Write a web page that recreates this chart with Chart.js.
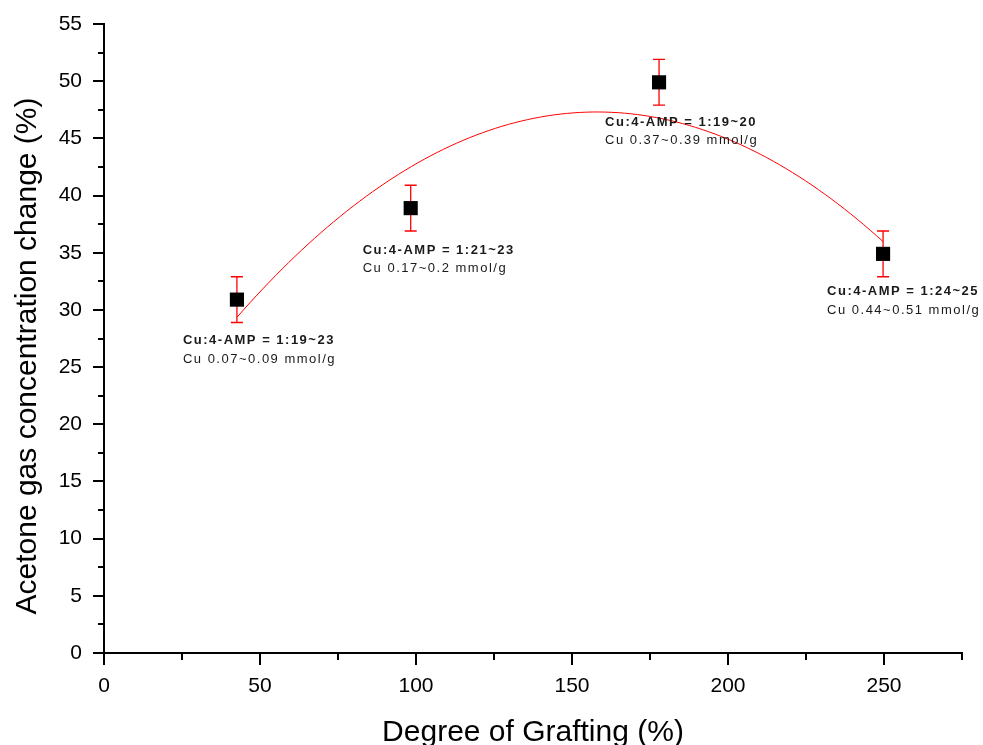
<!DOCTYPE html>
<html>
<head>
	<title>Acetone gas concentration change vs Degree of Grafting</title>
	<meta name="viewport" content="width=device-width, initial-scale=1.0"/>
	<script src="https://cdn.jsdelivr.net/npm/chart.js"></script>
	<style>
		body { margin: 0; background: #fff; }
		#wrap { width: 983px; height: 745px; }
	</style>
</head>
<body>
<div id="wrap"><canvas id="myChart" width="983" height="745"></canvas></div>
<script>
// degree of grafting (%) and acetone response (%) per sample
var grafting = [42.6, 98.3, 177.9, 249.7];
var acetone = [30.9, 38.9, 49.9, 34.9];
var acetoneErr = [2.0, 2.0, 2.0, 2.0];

var ratioText = ['Cu:4-AMP = 1:19~23', 'Cu:4-AMP = 1:21~23', 'Cu:4-AMP = 1:19~20', 'Cu:4-AMP = 1:24~25'];
var cuText = ['Cu 0.07~0.09 mmol/g', 'Cu 0.17~0.2 mmol/g', 'Cu 0.37~0.39 mmol/g', 'Cu 0.44~0.51 mmol/g'];

// axis ranges / tick steps
var xMax = 275, xMajor = 50, xMinor = 25;
var yMax = 55, yMajor = 5, yMinor = 2.5;

var FONT = '"Liberation Sans", Arial, sans-serif';

// where each note sits relative to its marker (px)
var noteOffset = [
	{dx: -54, dy: 41},
	{dx: -48, dy: 42},
	{dx: -54, dy: 40},
	{dx: -56, dy: 38}
];

// least squares 2nd order polynomial, returns [a, b, c] for a + bx + cx^2
function quadFit(xs, ys)
{
	var s = [0, 0, 0, 0, 0], t = [0, 0, 0];
	for (var i = 0; i < xs.length; i++) {
		var p = 1;
		for (var k = 0; k < 5; k++) {
			s[k] += p;
			if (k < 3) t[k] += p * ys[i];
			p *= xs[i];
		}
	}
	var m = [[s[0], s[1], s[2], t[0]], [s[1], s[2], s[3], t[1]], [s[2], s[3], s[4], t[2]]];
	for (var c = 0; c < 3; c++) {
		for (var r = c + 1; r < 3; r++) {
			var f = m[r][c] / m[c][c];
			for (var j = c; j < 4; j++) m[r][j] -= f * m[c][j];
		}
	}
	var coef = [0, 0, 0];
	for (var r2 = 2; r2 >= 0; r2--) {
		var v = m[r2][3];
		for (var j2 = r2 + 1; j2 < 3; j2++) v -= m[r2][j2] * coef[j2];
		coef[r2] = v / m[r2][r2];
	}
	return coef;
}

var coef = quadFit(grafting, acetone);
var fitLine = [];
var x0 = grafting[0], x1 = grafting[grafting.length - 1];
for (var i = 0; i <= 100; i++) {
	var xv = x0 + (x1 - x0) * i / 100;
	fitLine.push({x: xv, y: coef[0] + coef[1] * xv + coef[2] * xv * xv});
}

var points = grafting.map(function(g, i) { return {x: g, y: acetone[i]}; });

var decorations = {
	id: 'decorations',
	beforeDatasetsDraw: function(chart) {
		var ctx = chart.ctx, xs = chart.scales.x, ys = chart.scales.y;
		ctx.save();
		ctx.strokeStyle = '#ff0000';
		ctx.lineWidth = 1.3;
		for (var i = 0; i < grafting.length; i++) {
			var px = xs.getPixelForValue(grafting[i]);
			var top = ys.getPixelForValue(acetone[i] + acetoneErr[i]);
			var bot = ys.getPixelForValue(acetone[i] - acetoneErr[i]);
			ctx.beginPath();
			ctx.moveTo(px, top); ctx.lineTo(px, bot);
			ctx.moveTo(px - 6, top); ctx.lineTo(px + 6, top);
			ctx.moveTo(px - 6, bot); ctx.lineTo(px + 6, bot);
			ctx.stroke();
		}
		ctx.restore();
	},
	afterDraw: function(chart) {
		var ctx = chart.ctx, xs = chart.scales.x, ys = chart.scales.y;
		var area = chart.chartArea;
		ctx.save();
		ctx.strokeStyle = '#000';
		ctx.lineWidth = 2;
		ctx.beginPath();
		// y ticks, pointing out to the left
		for (var v = 0; v <= yMax + 0.001; v += yMinor) {
			var py = Math.round(ys.getPixelForValue(v));
			var len = (Math.abs(v / yMajor - Math.round(v / yMajor)) < 0.001) ? 11 : 6;
			ctx.moveTo(area.left - len, py);
			ctx.lineTo(area.left, py);
		}
		// x ticks, pointing down
		for (var u = 0; u <= xMax + 0.001; u += xMinor) {
			var px = Math.round(xs.getPixelForValue(u));
			var l2 = (u % xMajor === 0) ? 12 : 7;
			ctx.moveTo(px, area.bottom);
			ctx.lineTo(px, area.bottom + l2);
		}
		ctx.stroke();

		// notes beside each marker
		ctx.fillStyle = '#1a1a1a';
		ctx.textBaseline = 'middle';
		ctx.textAlign = 'left';
		ctx.letterSpacing = '1.5px';
		for (var i = 0; i < grafting.length; i++) {
			var bx = xs.getPixelForValue(grafting[i]) + noteOffset[i].dx;
			var by = ys.getPixelForValue(acetone[i]) + noteOffset[i].dy;
			ctx.font = 'bold 13px ' + FONT;
			ctx.fillText(ratioText[i], bx, by);
			ctx.font = '13px ' + FONT;
			ctx.fillText(cuText[i], bx, by + 18.5);
		}
		ctx.letterSpacing = '0px';

		// axis titles
		ctx.fillStyle = '#000';
		ctx.font = '30px ' + FONT;
		ctx.textAlign = 'center';
		ctx.textBaseline = 'alphabetic';
		ctx.fillText('Degree of Grafting (%)', 533, 741);
		ctx.translate(36, 356);
		ctx.rotate(-Math.PI / 2);
		ctx.fillText('Acetone gas concentration change (%)', 0, 0);
		ctx.restore();
	}
};

var chartConfig = {
	type: 'scatter',
	data: {
		datasets: [{
			label: 'Acetone',
			data: points,
			pointStyle: 'rect',
			pointRadius: 10,
			pointHoverRadius: 10,
			backgroundColor: '#000',
			borderColor: '#000',
			borderWidth: 0,
			showLine: false
		}, {
			label: 'Fit',
			data: fitLine,
			showLine: true,
			pointRadius: 0,
			borderColor: '#ff0000',
			borderWidth: 1,
			fill: false,
			tension: 0
		}]
	},
	options: {
		responsive: false,
		animation: false,
		events: [],
		layout: { padding: { left: 0, top: 24, right: 21, bottom: 0 } },
		plugins: {
			legend: { display: false },
			tooltip: { enabled: false }
		},
		scales: {
			x: {
				type: 'linear',
				min: 0,
				max: xMax,
				afterFit: function(scale) { scale.height = 92; },
				border: { display: true, color: '#000', width: 2 },
				grid: { display: true, drawOnChartArea: false, drawTicks: true, tickLength: 12, tickColor: 'rgba(0,0,0,0)' },
				ticks: {
					stepSize: xMinor,
					autoSkip: false,
					maxRotation: 0,
					padding: 9,
					color: '#000',
					font: { family: FONT, size: 21 },
					callback: function(value) { return value % xMajor === 0 ? value : ''; }
				}
			},
			y: {
				type: 'linear',
				min: 0,
				max: yMax,
				afterFit: function(scale) { scale.width = 104; },
				border: { display: true, color: '#000', width: 2 },
				grid: { display: true, drawOnChartArea: false, drawTicks: true, tickLength: 11, tickColor: 'rgba(0,0,0,0)' },
				ticks: {
					stepSize: yMajor,
					autoSkip: false,
					padding: 11,
					color: '#000',
					font: { family: FONT, size: 21 }
				}
			}
		}
	},
	plugins: [decorations]
};

var myChart = new Chart(document.getElementById('myChart'), chartConfig);
</script>
</body>
</html>
